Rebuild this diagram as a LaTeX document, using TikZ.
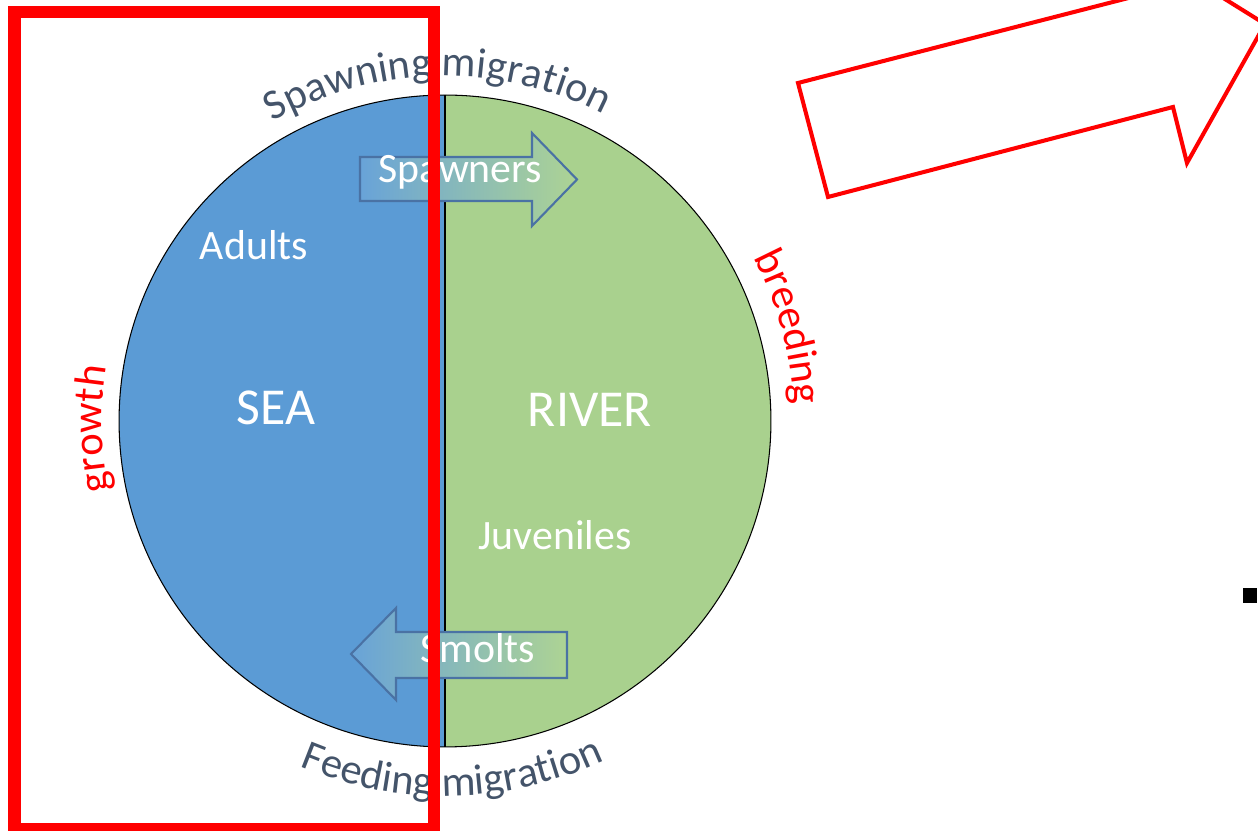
\documentclass[tikz,border=0pt]{standalone}
\usepackage{fontspec}
\setmainfont{Carlito}
\usetikzlibrary{decorations.text}
\definecolor{seablue}{HTML}{5B9BD5}
\definecolor{rivergreen}{HTML}{A9D18E}
\definecolor{slate}{HTML}{44546A}
\definecolor{arrowedge}{HTML}{4A72A4}
\newcommand\curvefont{\fontsize{24.2}{28}\selectfont}
\begin{document}
\begin{tikzpicture}[x=0.02cm,y=0.02cm,
  labw/.style={text=white, font=\fontsize{23.8}{28}\selectfont, inner sep=0pt, anchor=base},
  labbig/.style={text=white, font=\fontsize{29.5}{34}\selectfont, inner sep=0pt, anchor=base},
  flowarrow/.style={left color=seablue!92!white, right color=rivergreen!95!white, draw=arrowedge, line width=1.2pt, line join=miter},
  curved/.style={decorate, decoration={text along path, text align=center, text color=#1}},
]
\useasboundingbox (0,0) rectangle (1258,831);
\clip (0,0) rectangle (1258,831);
\coordinate (C) at (445,410);
\coordinate (top) at (445,736);
\coordinate (bot) at (445,84);
% halves
\fill[seablue] (top) arc[start angle=90,end angle=270,radius=6.52cm] -- cycle;
\fill[rivergreen] (top) arc[start angle=90,end angle=-90,radius=6.52cm] -- cycle;
\draw[line width=0.6pt] (C) circle[radius=6.52cm];
\draw[line width=0.6pt] (top) -- (bot);
% curved labels
\path[curved=slate, decoration={text={|\curvefont|Spawning migration}}] (C) ++(131.3:6.9cm) arc[start angle=131.3,end angle=51.3,radius=6.9cm];
\path[curved=slate, decoration={text={|\curvefont|Feeding migration}}] (C) ++(241.2:7.5cm) arc[start angle=241.2,end angle=301.2,radius=7.5cm];
\path[curved=red, decoration={text={|\curvefont|breeding}}] (C) ++(45.3:6.98cm) arc[start angle=45.3,end angle=-14.7,radius=6.98cm];
\path[curved=red, decoration={text={|\curvefont|growth}}] (C) ++(211.3:6.86cm) arc[start angle=211.3,end angle=151.3,radius=6.86cm];
% flow arrows
\shadedraw[flowarrow] (360,674) -- (532,674) -- (532,698) -- (577,651.5) -- (532,605) -- (532,630) -- (360,630) -- cycle;
\shadedraw[flowarrow] (567,199) -- (396,199) -- (396,223) -- (351,177) -- (396,131) -- (396,153) -- (567,153) -- cycle;
% texts
\node[labw] (spawners) at (460,648) {Spawners};
\node[labw] (smolts) at (478,168) {Smolts};
\node[labw] (adults) at (254,571) {Adults};
\node[labw] (juveniles) at (555,281) {Juveniles};
\node[labbig] (sea) at (276,406) {SEA};
\node[labbig] (river) at (590,404) {RIVER};
% red frame
\draw[red, line width=7.09pt] (14.5,1.5) rectangle (434,819);
% red outline arrow
\draw[red, line width=2.3pt, line join=miter] (798,748) -- (1144,837) -- (1130,891) -- (1265,807) -- (1187,668) -- (1173,724) -- (828,634) -- cycle;
% small black square
\fill[black] (1243,228) rectangle (1257,243);
\end{tikzpicture}
\end{document}
